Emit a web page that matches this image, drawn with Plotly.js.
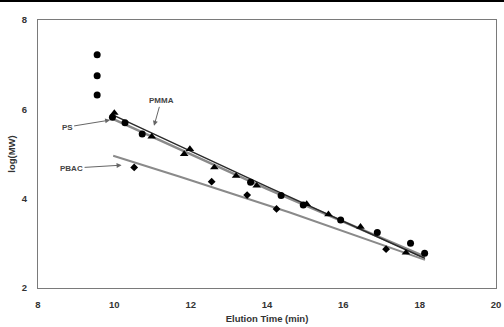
<!DOCTYPE html>
<html>
<head>
<meta charset="utf-8">
<script src="https://cdn.plot.ly/plotly-3.0.1.min.js"></script>
<style>
html,body{margin:0;padding:0;background:#fff;}
#topbar{position:absolute;left:0;top:0;width:504px;height:2px;background:#000;z-index:10;}
#chart{width:504px;height:327px;}
</style>
</head>
<body>
<div id="topbar"></div>
<div id="chart"></div>
<script>
// PS standards (circles)
const psTime = [9.55, 9.55, 9.55, 9.95, 10.28, 10.73, 13.57, 14.37, 14.95, 15.93, 16.89, 17.76, 18.13];
const psLogMW = [7.22, 6.75, 6.32, 5.82, 5.70, 5.45, 4.37, 4.07, 3.86, 3.52, 3.24, 3.00, 2.78];
// PMMA standards (triangles)
const pmmaTime = [10.0, 10.98, 11.83, 11.98, 12.62, 13.19, 13.73, 15.04, 15.61, 16.45, 17.64];
const pmmaLogMW = [5.92, 5.39, 5.00, 5.11, 4.70, 4.51, 4.29, 3.88, 3.65, 3.37, 2.79];
// PBAC (diamonds)
const pbacTime = [10.52, 12.55, 13.48, 14.25, 17.12];
const pbacLogMW = [4.70, 4.38, 4.08, 3.77, 2.87];
// fit lines
const psFitTime = [9.93, 14.0, 18.14];
const psFitLogMW = [5.80, 4.22, 2.70];
const pmmaFitTime = [10.0, 14.0, 18.14];
const pmmaFitLogMW = [5.86, 4.27, 2.66];
const pbacFitTime = [9.97, 11.72, 14.6, 18.14];
const pbacFitLogMW = [4.96, 4.49, 3.69, 2.63];

const xTicks = [8, 10, 12, 14, 16, 18, 20];
const yTicks = [2, 4, 6, 8];

const traces = [
  {x: psFitTime, y: psFitLogMW, mode: 'lines', line: {color: '#8a8a8a', width: 2.5}, hoverinfo: 'skip'},
  {x: pmmaFitTime, y: pmmaFitLogMW, mode: 'lines', line: {color: '#2a2a2a', width: 1.5}, hoverinfo: 'skip'},
  {x: pbacFitTime, y: pbacFitLogMW, mode: 'lines', line: {color: '#8a8a8a', width: 2}, hoverinfo: 'skip'},
  {x: psTime, y: psLogMW, mode: 'markers', marker: {symbol: 'circle', size: 7, color: '#000'}},
  {x: pmmaTime, y: pmmaLogMW, mode: 'markers', marker: {symbol: 'triangle-up', size: 7.5, color: '#000'}},
  {x: pbacTime, y: pbacLogMW, mode: 'markers', marker: {symbol: 'diamond', size: 6, color: '#000'}}
];

const fnt = {family: 'Liberation Sans, Arial, sans-serif', size: 9.5, color: '#333', weight: 'bold'};

const layout = {
  width: 504, height: 327,
  margin: {l: 38, r: 8, t: 20, b: 39},
  paper_bgcolor: '#fff', plot_bgcolor: '#fff',
  showlegend: false,
  xaxis: {
    range: [8, 20], tickvals: xTicks, ticktext: xTicks.map(String),
    showgrid: false, zeroline: false, showline: true, mirror: true,
    linecolor: '#7a7a7a', linewidth: 1, ticks: '',
    tickfont: fnt, ticklabelstandoff: 8,
    title: {text: 'Elution Time (min)', font: fnt, standoff: 5}
  },
  yaxis: {
    range: [2, 8], tickvals: yTicks, ticktext: yTicks.map(String),
    showgrid: false, zeroline: false, showline: true, mirror: true,
    linecolor: '#7a7a7a', linewidth: 1, ticks: '',
    tickfont: fnt, ticklabelstandoff: 8,
    title: {text: 'log(MW)', font: fnt, standoff: 4}
  },
  annotations: [
    {x: 9.89, y: 5.76, xref: 'x', yref: 'y', text: 'PS', showarrow: true, ax: -43, ay: 7,
     arrowhead: 2, arrowsize: 1, arrowwidth: 1, arrowcolor: '#666', font: {family: 'Liberation Sans, Arial, sans-serif', size: 8, color: '#444', weight: 'bold'}},
    {x: 11.04, y: 5.63, xref: 'x', yref: 'y', text: 'PMMA', showarrow: true, ax: 7, ay: -25,
     arrowhead: 2, arrowsize: 1, arrowwidth: 1, arrowcolor: '#666', font: {family: 'Liberation Sans, Arial, sans-serif', size: 8, color: '#444', weight: 'bold'}},
    {x: 10.19, y: 4.75, xref: 'x', yref: 'y', text: 'PBAC', showarrow: true, ax: -50, ay: 3,
     arrowhead: 2, arrowsize: 1, arrowwidth: 1, arrowcolor: '#666', font: {family: 'Liberation Sans, Arial, sans-serif', size: 8, color: '#444', weight: 'bold'}}
  ]
};

Plotly.newPlot('chart', traces, layout, {displayModeBar: false, staticPlot: true});
</script>
</body>
</html>
